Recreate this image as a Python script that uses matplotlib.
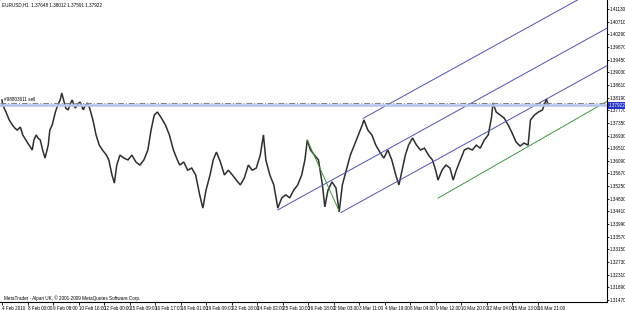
import matplotlib
matplotlib.use("Agg")
import matplotlib.pyplot as plt

plt.rcParams["font.family"] = ["Liberation Sans", "DejaVu Sans"]

# EURUSD H1, hand-read close prices (bar index counted from 4 Feb 2010)
bars = [0, 1, 5, 9, 13, 16, 19, 23, 26, 30, 34, 38, 40, 43, 45, 48, 51, 54, 58, 60,
        63, 67, 70, 73, 75, 78, 80, 83, 85, 88, 92, 95, 98, 102, 104, 107, 110, 114, 118, 122,
        126, 131, 134, 138, 141, 144, 148, 153, 158, 163, 168, 173, 178, 183, 187, 191, 195, 200, 205, 210,
        215, 220, 223, 228, 233, 238, 243, 248, 252, 256, 261, 265, 269, 274, 279, 284, 289, 294, 299, 304,
        309, 314, 319, 324, 328, 331, 336, 341, 346, 351, 356, 361, 366, 371, 376, 380, 383, 387, 392, 397,
        402, 405, 409, 414, 419, 423, 427, 432, 437, 442, 447, 452, 454, 459, 464, 469, 474, 479, 484, 489,
        494, 498, 502, 506, 510, 515, 520, 525, 530, 535, 540, 544, 547, 552, 557, 562, 566, 570, 575, 580,
        585, 590, 595, 600, 605, 610, 614, 616, 620, 625, 630, 635, 640, 645, 650, 655, 660, 663, 668, 673,
        678, 683, 685]
closes = [1.3811, 1.3794, 1.3771, 1.3745, 1.3728, 1.3718, 1.3711, 1.3721, 1.3695, 1.3678,
          1.3661, 1.3645, 1.3678, 1.3695, 1.3685, 1.3678, 1.3645, 1.3618, 1.3661, 1.3711,
          1.3728, 1.3771, 1.3794, 1.3811, 1.3834, 1.3804, 1.3784, 1.3778, 1.3794, 1.3811,
          1.3784, 1.3798, 1.3804, 1.3778, 1.3791, 1.3801, 1.3784, 1.3745, 1.3695, 1.3661,
          1.3645, 1.3628, 1.3612, 1.3562, 1.3535, 1.3595, 1.3628, 1.3618, 1.3612, 1.3628,
          1.3605, 1.3595, 1.3612, 1.3645, 1.3711, 1.3761, 1.3771, 1.3751, 1.3728, 1.3695,
          1.3645, 1.3612, 1.3595, 1.3605, 1.3578, 1.3585, 1.3562, 1.3496, 1.3452, 1.3512,
          1.3562, 1.3612, 1.3638, 1.3605, 1.3562, 1.3578, 1.3562, 1.3545, 1.3529, 1.3552,
          1.3595, 1.3578, 1.3585, 1.3628, 1.3695, 1.3612, 1.3562, 1.3529, 1.3452, 1.3486,
          1.3496, 1.3486, 1.3512, 1.3529, 1.3562, 1.3612, 1.3678, 1.3645, 1.3628, 1.3612,
          1.3529, 1.3456, 1.3512, 1.3539, 1.3519, 1.3439, 1.3529, 1.3578, 1.3628, 1.3661,
          1.3695, 1.3728, 1.3745, 1.3711, 1.3695, 1.3661, 1.3638, 1.3618, 1.3645, 1.3612,
          1.3562, 1.3529, 1.3578, 1.3628, 1.3661, 1.3685, 1.3661, 1.3645, 1.3651, 1.3628,
          1.3612, 1.3578, 1.3545, 1.3578, 1.3595, 1.3585, 1.3545, 1.3578, 1.3612, 1.3645,
          1.3651, 1.3645, 1.3661, 1.3651, 1.3678, 1.3695, 1.3751, 1.3801, 1.3771, 1.3761,
          1.3751, 1.3728, 1.3701, 1.3671, 1.3658, 1.3668, 1.3661, 1.3745, 1.3761, 1.3771,
          1.3778, 1.3814, 1.3797]

# pitchfork / channel lines: (start bar, start price), common slope per bar
fork_starts = [(346, 1.3446), (453, 1.3750), (425, 1.3437)]
fork_slope = 0.0001461
green_seg = [(383, 1.3678), (423, 1.3442)]
green_ray = [(547, 1.3485), (725, 1.3755)]

order_price = 1.3800
bid_price = 1.3794
last_price = 1.37922

y_ticks = [round(1.4113 - 0.0042 * k, 5) for k in range(24)]
x_labels = ["4 Feb 2010", "8 Feb 00:00", "9 Feb 08:00", "10 Feb 16:00", "12 Feb 00:00",
            "15 Feb 09:00", "16 Feb 17:00", "18 Feb 01:00", "19 Feb 09:00", "22 Feb 18:00",
            "24 Feb 02:00", "25 Feb 10:00", "26 Feb 18:00", "2 Mar 03:00", "3 Mar 11:00",
            "4 Mar 19:00", "8 Mar 04:00", "9 Mar 12:00", "10 Mar 20:00", "12 Mar 04:00",
            "15 Mar 13:00", "16 Mar 21:00"]
x_ticks = [32 * i for i in range(len(x_labels))]

fs = 3.3
fig = plt.figure(figsize=(6.25, 3.10), dpi=100)
ax = fig.add_axes([0, 8 / 310, 607 / 625, 302 / 310])
xmax = 759
ax.set_xlim(-2.5, xmax)
ax.set_ylim(1.31403, 1.41429)

ax.plot(bars, closes, color="#2e2e2e", lw=1.1, solid_joinstyle="miter")

for b0, p0 in fork_starts:
    ax.plot([b0, xmax], [p0, p0 + fork_slope * (xmax - b0)], color="#5050c0", lw=0.7)
ax.plot([p[0] for p in green_seg], [p[1] for p in green_seg], color="#3a9a3a", lw=0.7)
g_slope = (green_ray[1][1] - green_ray[0][1]) / (green_ray[1][0] - green_ray[0][0])
ax.plot([green_ray[0][0], xmax], [green_ray[0][1], green_ray[0][1] + g_slope * (xmax - green_ray[0][0])],
        color="#3a9a3a", lw=0.7)

ax.axhline(bid_price, color="#b4c2ee", lw=1.8)
ax.axhline(order_price, color="#808080", lw=0.7, ls=(0, (6, 2, 1, 2)))
ax.text(2, order_price + 0.0004, "#98803611 sell", fontsize=fs, va="bottom")

ax.spines["left"].set_visible(False)
ax.spines["top"].set_visible(False)
ax.spines["right"].set_linewidth(0.8)
ax.spines["bottom"].set_linewidth(0.8)

ax.yaxis.tick_right()
ax.set_yticks(y_ticks)
ax.set_yticklabels([f"{v:.5f}" for v in y_ticks])
ax.tick_params(axis="y", length=1.5, width=0.6, pad=0.5, labelsize=fs)
ax.set_xticks(x_ticks)
ax.set_xticklabels(x_labels, ha="left")
ax.tick_params(axis="x", length=2, width=0.6, pad=1, labelsize=fs)

ax.annotate(f"{last_price:.5f}", xy=(1, last_price), xycoords=("axes fraction", "data"),
            xytext=(1.5, 0), textcoords="offset points", fontsize=fs, color="white",
            va="center", ha="left",
            bbox=dict(boxstyle="square,pad=0.15", fc="#2434c8", ec="none"))

fig.text(2 / 625, 1 - 5 / 310, "EURUSD,H1  1.37648 1.38012 1.37591 1.37922",
         fontsize=fs, va="center", ha="left")
ax.text(2, 1.31403 + 0.0003, "MetaTrader - Alpari UK, \u00a9 2001-2009 MetaQuotes Software Corp.",
        fontsize=fs, va="bottom", ha="left")

fig.savefig("out.png", dpi=100)
